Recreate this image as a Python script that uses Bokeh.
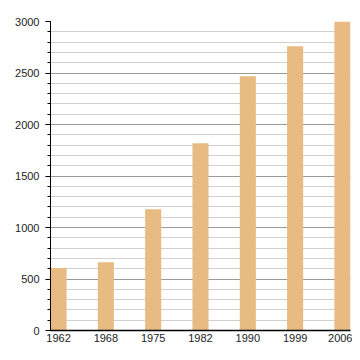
from bokeh.plotting import figure
from bokeh.models import SingleIntervalTicker, FixedTicker, Range1d
from bokeh.embed import file_html
from bokeh.resources import INLINE

years = ["1962", "1968", "1975", "1982", "1990", "1999", "2006"]
population = [608, 663, 1178, 1818, 2468, 2760, 3000]

bar_w = 0.34
xs = list(range(len(years)))

p = figure(width=352, height=352, output_backend="svg", toolbar_location=None,
           x_range=Range1d(-bar_w / 2, len(years) - 1 + bar_w / 2),
           y_range=Range1d(0, 3000),
           min_border_left=50, min_border_top=21, min_border_right=2, min_border_bottom=22)
p.frame_width = 300
p.frame_height = 309
p.outline_line_color = None
p.background_fill_color = "white"
p.border_fill_color = "white"

p.vbar(x=xs, top=population, width=bar_w, bottom=0, fill_color="#e8bb82", line_color=None)

p.xgrid.grid_line_color = None
p.ygrid.grid_line_color = "#999999"
p.ygrid.minor_grid_line_color = "#d0d0d0"
p.ygrid.level = "underlay"

p.yaxis.ticker = SingleIntervalTicker(interval=500, num_minor_ticks=5)
p.yaxis.major_tick_out = 5
p.yaxis.major_tick_in = 0
p.yaxis.minor_tick_out = 3
p.yaxis.minor_tick_in = 0
p.yaxis.axis_line_color = "black"
p.yaxis.major_label_standoff = 6

p.xaxis.ticker = FixedTicker(ticks=xs)
p.xaxis.major_label_overrides = {i: y for i, y in enumerate(years)}
p.xaxis.major_tick_out = 0
p.xaxis.major_tick_in = 0
p.xaxis.minor_tick_out = 0
p.xaxis.axis_line_color = "black"
p.xaxis.axis_line_width = 1.5
p.xaxis.major_label_standoff = 3

for ax in (p.xaxis, p.yaxis):
    ax.major_label_text_font = "Liberation Sans"
    ax.major_label_text_font_size = "11px"
    ax.major_label_text_color = "#222222"

open("out.html", "w").write(file_html(p, INLINE))
